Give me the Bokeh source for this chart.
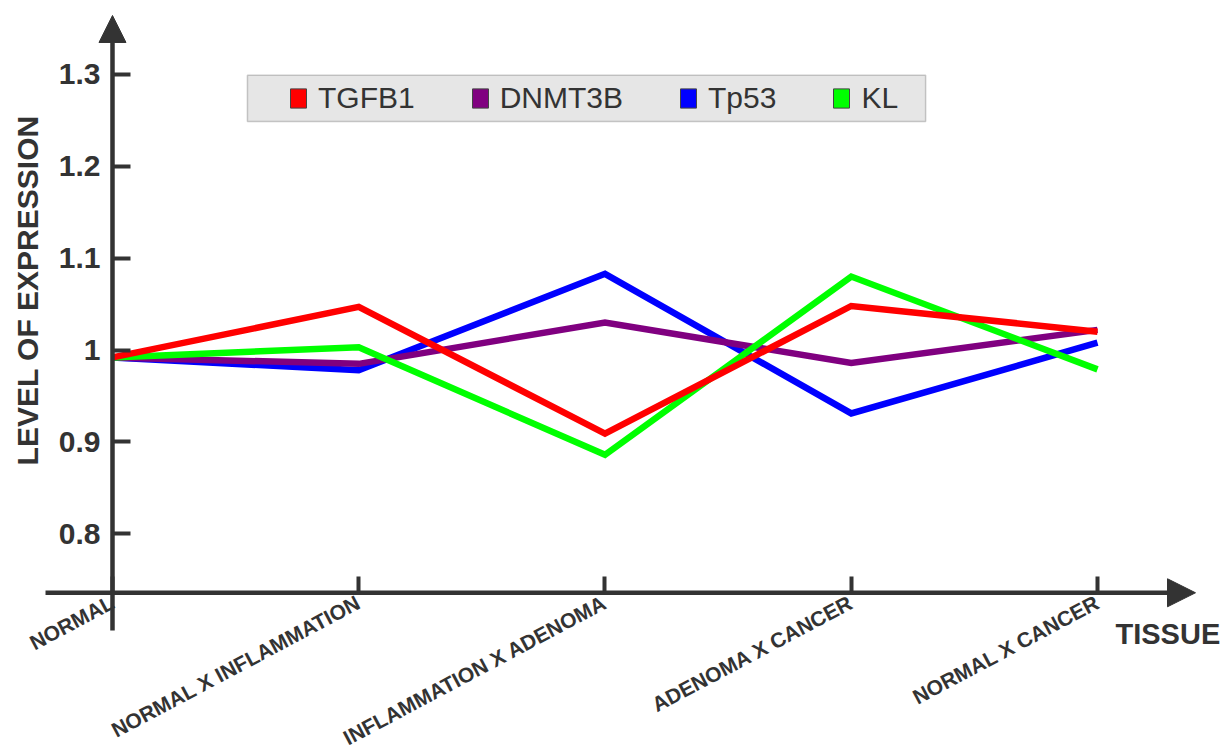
import math
from bokeh.plotting import figure
from bokeh.models import (Range1d, LinearAxis, FixedTicker, Arrow, NormalHead,
                          Label, Legend, LegendItem, BoxAnnotation)
from bokeh.embed import file_html
from bokeh.resources import INLINE

# ---------------- data ----------------
categories = ["NORMAL", "NORMAL X INFLAMMATION", "INFLAMMATION X ADENOMA",
              "ADENOMA X CANCER", "NORMAL X CANCER"]
series_names = ["TGFB1", "DNMT3B", "Tp53", "KL"]
tgfb1 = [0.992, 1.047, 0.909, 1.048, 1.020]
dnmt3b = [0.992, 0.985, 1.030, 0.986, 1.022]
tp53 = [0.992, 0.978, 1.083, 0.931, 1.008]
kl = [0.992, 1.003, 0.886, 1.080, 0.979]
y_ticks = [0.8, 0.9, 1.0, 1.1, 1.2, 1.3]
y_tick_labels = ["0.8", "0.9", "1", "1.1", "1.2", "1.3"]
y_title = "LEVEL OF EXPRESSION"
x_title = "TISSUE"

colors = {"TGFB1": "#ff0000", "DNMT3B": "#800080", "Tp53": "#0000ff", "KL": "#00ff00"}
values = {"TGFB1": tgfb1, "DNMT3B": dnmt3b, "Tp53": tp53, "KL": kl}

xs = list(range(len(categories)))
AX = "#333333"
FONT = "Liberation Sans"

p = figure(width=1225, height=749, output_backend="svg", toolbar_location=None,
           x_axis_type=None, y_axis_type=None,
           x_range=Range1d(-0.4548, 4.5198), y_range=Range1d(0.5652, 1.3805),
           min_border=0, outline_line_color=None, background_fill_color="white")
p.grid.visible = False

X_AXIS_Y = 0.7358

# y axis
yax = LinearAxis(fixed_location=0, ticker=FixedTicker(ticks=y_ticks),
                 major_label_overrides={("%g" % t): lab for t, lab in zip(y_ticks, y_tick_labels)},
                 axis_line_color=None, major_tick_in=18, major_tick_out=0,
                 major_tick_line_width=4, major_tick_line_color=AX,
                 minor_tick_line_color=None, major_label_standoff=12,
                 major_label_text_font=FONT, major_label_text_font_style="bold",
                 major_label_text_font_size="30px", major_label_text_color=AX)
p.add_layout(yax, "left")

# x axis
x_overrides = {}
for i, c in zip(xs, categories):
    x_overrides[i] = c
    x_overrides[str(i)] = c
xax = LinearAxis(fixed_location=X_AXIS_Y, ticker=FixedTicker(ticks=xs),
                 major_label_overrides=x_overrides,
                 axis_line_color=None, major_tick_in=16, major_tick_out=0,
                 major_tick_line_width=4, major_tick_line_color=AX,
                 minor_tick_line_color=None, major_label_standoff=8,
                 major_label_orientation=math.radians(28),
                 major_label_text_font=FONT, major_label_text_font_style="bold",
                 major_label_text_font_size="21px", major_label_text_color=AX)
p.add_layout(xax, "below")

# axis lines with arrow heads
p.add_layout(Arrow(end=NormalHead(size=27, fill_color=AX, line_color=AX, line_width=1),
                   x_start=0, y_start=0.6947, x_end=0, y_end=1.3642,
                   line_width=4.5, line_color=AX))
p.add_layout(Arrow(end=NormalHead(size=28, fill_color=AX, line_color=AX, line_width=1),
                   x_start=-0.272, y_start=X_AXIS_Y, x_end=4.398, y_end=X_AXIS_Y,
                   line_width=4.5, line_color=AX))

# data lines (draw order: blue, purple, green, red on top)
for name in ["Tp53", "DNMT3B", "KL", "TGFB1"]:
    p.line(xs, values[name], line_color=colors[name], line_width=6.5, line_join="miter")

# legend
p.add_layout(BoxAnnotation(left=0.548, right=3.302, top=1.299, bottom=1.2488,
                           fill_color="#e6e6e6", fill_alpha=1, line_color="#555555",
                           line_width=1.5, level="underlay"))
nan = float("nan")
items = []
for name in series_names:
    r = p.rect(x=[nan], y=[nan], width=1, height=1, fill_color=colors[name],
               line_color="#444444", line_width=1)
    items.append(LegendItem(label=name, renderers=[r]))
legend = Legend(items=items, orientation="horizontal", location=(288, 634),
                padding=0, margin=0, spacing=55, label_standoff=10,
                glyph_width=20, glyph_height=24, label_height=24,
                label_text_font=FONT, label_text_font_size="30px", label_text_color=AX,
                background_fill_alpha=0, border_line_color=None)
p.add_layout(legend)

# titles
p.add_layout(Label(x=-0.345, y=1.065, text=y_title, angle=math.pi / 2,
                   text_align="center", text_baseline="middle", text_font=FONT,
                   text_font_style="bold", text_font_size="30px", text_color=AX))
p.add_layout(Label(x=4.073, y=0.6904, text=x_title, text_align="left",
                   text_baseline="middle", text_font=FONT, text_font_style="bold",
                   text_font_size="29px", text_color=AX))

open("out.html", "w").write(file_html(p, INLINE))
